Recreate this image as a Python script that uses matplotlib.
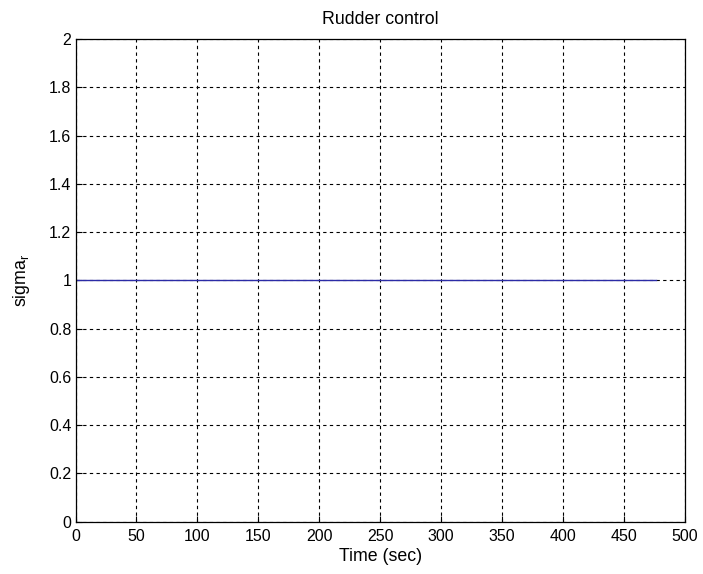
import matplotlib
matplotlib.use('Agg')
import matplotlib.pyplot as plt

# --- data ---
time_sec = [0, 476]
sigma_r = [1, 1]
x_ticks = [0, 50, 100, 150, 200, 250, 300, 350, 400, 450, 500]
y_ticks = [0, 0.2, 0.4, 0.6, 0.8, 1, 1.2, 1.4, 1.6, 1.8, 2]
y_tick_labels = ['0', '0.2', '0.4', '0.6', '0.8', '1', '1.2', '1.4', '1.6', '1.8', '2']

plt.rcParams['font.family'] = ['Liberation Sans', 'DejaVu Sans']

fig = plt.figure(figsize=(7.03, 5.74), dpi=100)
ax = fig.add_axes([0.1074, 0.0911, 0.8670, 0.8409])

ax.plot(time_sec, sigma_r, color='#2b2ba6', linewidth=1.0)
ax.set_xlim(0, 500)
ax.set_ylim(0, 2)
ax.set_xticks(x_ticks)
ax.set_yticks(y_ticks)
ax.set_yticklabels(y_tick_labels)
ax.tick_params(direction='in', length=4, labelsize=11.5, width=0.8)
ax.tick_params(axis='x', pad=5)
ax.tick_params(axis='y', pad=3)
ax.grid(True, color='black', linestyle=(0, (3, 3)), linewidth=0.8)
for s in ax.spines.values():
    s.set_linewidth(0.9)

ax.set_title('Rudder control', fontsize=12.8, pad=11)
ax.set_xlabel('Time (sec)', fontsize=12.8, labelpad=3)
ax.set_ylabel('sigma$_\\mathregular{r}$', fontsize=12.8, labelpad=12)

fig.savefig('out.png', dpi=100)
